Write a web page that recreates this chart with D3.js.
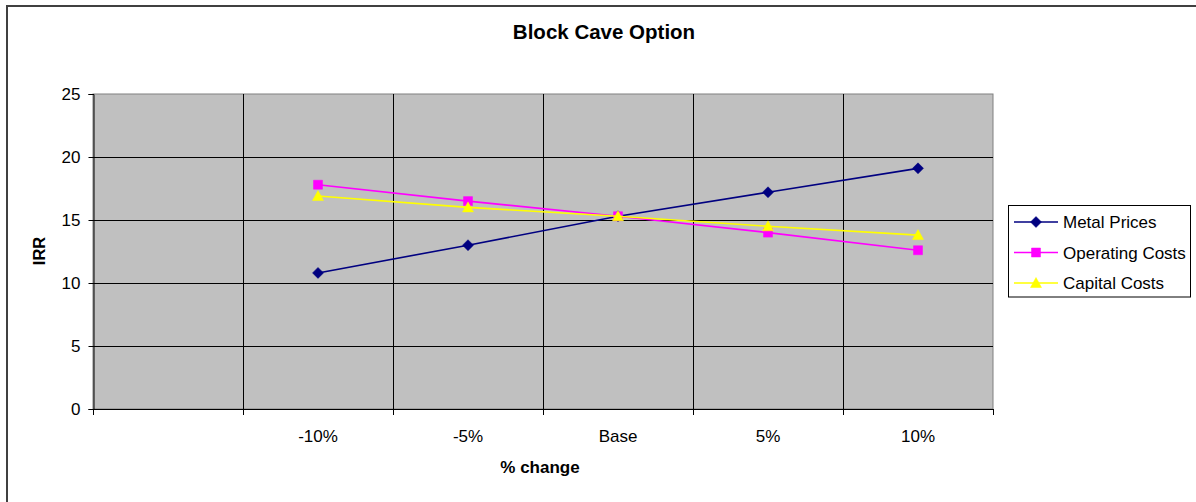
<!DOCTYPE html>
<html>
<head>
<meta charset="utf-8">
<script src="https://cdn.jsdelivr.net/npm/d3@7"></script>
<style>
  html, body { margin: 0; padding: 0; background: #fff; }
  svg { display: block; }
  text { font-family: "Liberation Sans", Arial, sans-serif; fill: #000; }
</style>
</head>
<body>
<svg id="chart" width="1196" height="502"></svg>
<script>
// Sensitivity of IRR to a +/- change in each driver
const categories = ["-10%", "-5%", "Base", "5%", "10%"];
const metalPrices = [10.8, 13.0, 15.3, 17.2, 19.1];
const operatingCosts = [17.8, 16.5, 15.3, 14.0, 12.6];
const capitalCosts = [16.9, 16.0, 15.3, 14.5, 13.8];
const yTicks = [0, 5, 10, 15, 20, 25];
const seriesNames = ["Metal Prices", "Operating Costs", "Capital Costs"];

const series = [
  { name: seriesNames[0], values: metalPrices, color: "#000080", shape: "diamond" },
  { name: seriesNames[1], values: operatingCosts, color: "#FF00FF", shape: "square" },
  { name: seriesNames[2], values: capitalCosts, color: "#FFFF00", shape: "triangle" }
];

const svg = d3.select("#chart");
const plot = { left: 93, top: 94, right: 993, bottom: 409 };

// The category axis keeps an unlabeled leading slot
const slots = [""].concat(categories);
const x = d3.scaleBand().domain(slots).range([plot.left, plot.right]).paddingInner(0).paddingOuter(0);
const y = d3.scaleLinear().domain([0, 25]).range([plot.bottom, plot.top]);
const cx = c => x(c) + x.bandwidth() / 2;

// Outer chart frame
svg.append("rect")
  .attr("x", 7).attr("y", 6).attr("width", 1300).attr("height", 600)
  .attr("fill", "#fff").attr("stroke", "#404040").attr("stroke-width", 2);

// Plot area
svg.append("rect")
  .attr("x", plot.left).attr("y", plot.top)
  .attr("width", plot.right - plot.left).attr("height", plot.bottom - plot.top)
  .attr("fill", "#C0C0C0").attr("stroke", "#808080").attr("stroke-width", 1);

// Horizontal gridlines
svg.append("g").selectAll("line")
  .data(yTicks.filter(t => t > 0 && t < 25))
  .join("line")
  .attr("x1", plot.left).attr("x2", plot.right)
  .attr("y1", d => Math.round(y(d)) + 0.5).attr("y2", d => Math.round(y(d)) + 0.5)
  .attr("stroke", "#000").attr("stroke-width", 1);

// Vertical gridlines at category boundaries
svg.append("g").selectAll("line")
  .data(slots.slice(1))
  .join("line")
  .attr("x1", d => Math.round(x(d)) + 0.5).attr("x2", d => Math.round(x(d)) + 0.5)
  .attr("y1", plot.top).attr("y2", plot.bottom)
  .attr("stroke", "#000").attr("stroke-width", 1);

// Y axis
const yAxis = d3.axisLeft(y).tickValues(yTicks).tickSize(5).tickPadding(8).tickFormat(d3.format("d"));
const gy = svg.append("g").attr("transform", `translate(${plot.left + 0.5},0)`).call(yAxis);
gy.select(".domain").attr("stroke", "#000");
gy.selectAll(".tick line").attr("stroke", "#000");
gy.selectAll("text").style("font-size", "17px").attr("fill", "#000");

// X axis: labels centred in each slot, ticks at slot boundaries
const xAxis = d3.axisBottom(x).tickSize(0).tickPadding(20);
const gx = svg.append("g").attr("transform", `translate(0,${plot.bottom + 0.5})`).call(xAxis);
gx.select(".domain").remove();
gx.selectAll("text").style("font-size", "17px").attr("fill", "#000");
const bounds = slots.map(s => x(s)).concat([x.range()[1]]);
const gxt = svg.append("g");
gxt.append("line")
  .attr("x1", plot.left).attr("x2", plot.right)
  .attr("y1", plot.bottom + 0.5).attr("y2", plot.bottom + 0.5)
  .attr("stroke", "#000");
gxt.selectAll("line.tk").data(bounds).join("line").attr("class", "tk")
  .attr("x1", d => Math.round(d) + 0.5).attr("x2", d => Math.round(d) + 0.5)
  .attr("y1", plot.bottom).attr("y2", plot.bottom + 6)
  .attr("stroke", "#000");

// Marker shapes
function markerPath(shape) {
  if (shape === "diamond") return "M0,-5.5L5.5,0L0,5.5L-5.5,0Z";
  if (shape === "square") return "M-4.5,-4.5H4.5V4.5H-4.5Z";
  return "M0,-5.5L5.5,4.5H-5.5Z";
}

const line = d3.line().x((d, i) => cx(categories[i])).y(d => y(d));

series.forEach(s => {
  const g = svg.append("g");
  g.append("path").datum(s.values)
    .attr("d", line).attr("fill", "none")
    .attr("stroke", s.color).attr("stroke-width", 1.6);
  g.selectAll("path.mk").data(s.values).join("path").attr("class", "mk")
    .attr("d", markerPath(s.shape))
    .attr("transform", (d, i) => `translate(${cx(categories[i])},${y(d)})`)
    .attr("fill", s.color).attr("stroke", s.color).attr("stroke-width", 0.5);
});

// Title and axis titles
svg.append("text").attr("x", 604).attr("y", 39).attr("text-anchor", "middle")
  .style("font-size", "20.5px").style("font-weight", "bold").text("Block Cave Option");
svg.append("text").attr("x", 540).attr("y", 473).attr("text-anchor", "middle")
  .style("font-size", "17px").style("font-weight", "bold").text("% change");
svg.append("text").attr("transform", "translate(45,251) rotate(-90)").attr("text-anchor", "middle")
  .style("font-size", "16.5px").style("font-weight", "bold").text("IRR");

// Legend
const legend = svg.append("g");
legend.append("rect").attr("x", 1008.5).attr("y", 205.5).attr("width", 182).attr("height", 91.5)
  .attr("fill", "#fff").attr("stroke", "#000").attr("stroke-width", 1);
series.forEach((s, i) => {
  const ry = 222 + i * 30.5;
  legend.append("line").attr("x1", 1014).attr("x2", 1058).attr("y1", ry).attr("y2", ry)
    .attr("stroke", s.color).attr("stroke-width", 1.6);
  legend.append("path").attr("d", markerPath(s.shape))
    .attr("transform", `translate(1036,${ry})`)
    .attr("fill", s.color).attr("stroke", s.color).attr("stroke-width", 0.5);
  legend.append("text").attr("x", 1063).attr("y", ry + 6)
    .style("font-size", "17px").text(s.name);
});
</script>
</body>
</html>
